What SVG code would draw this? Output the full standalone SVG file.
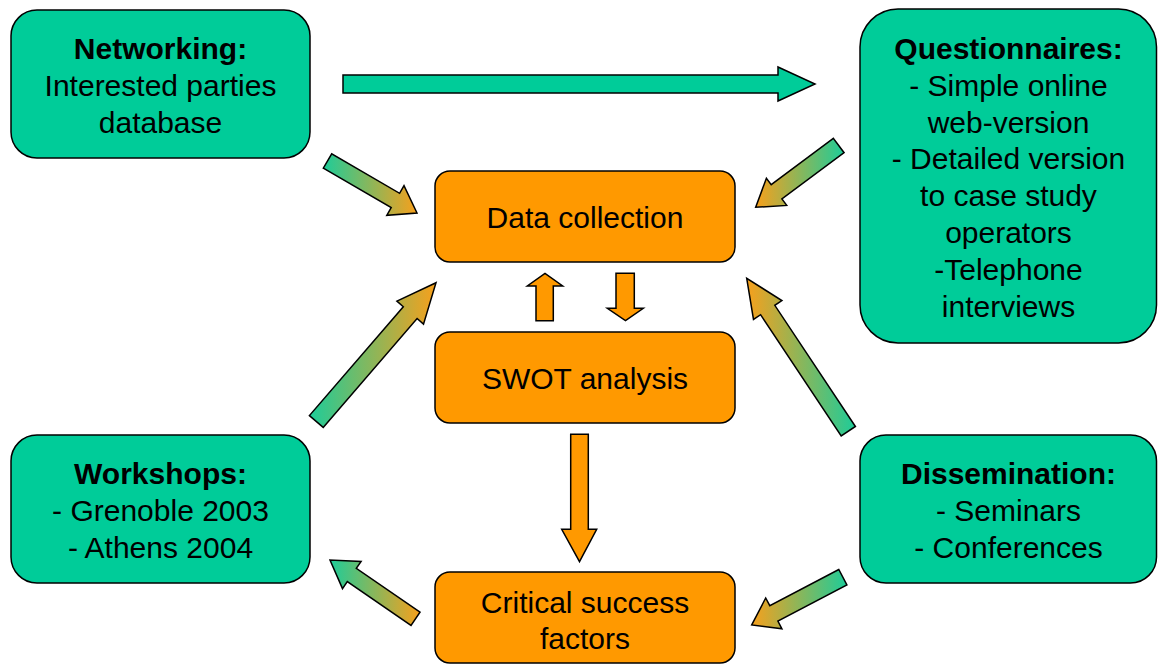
<svg xmlns="http://www.w3.org/2000/svg" width="1158" height="666" viewBox="0 0 1158 666">
<style>
.g{fill:#00CC99;stroke:#000;stroke-width:1.5}
.o{fill:#FF9900;stroke:#000;stroke-width:1.5}
.t{font-family:"Liberation Sans",Arial,sans-serif;font-size:30px;fill:#000;text-anchor:middle}
.b{font-weight:bold}
.a{stroke:#000;stroke-width:1.5;stroke-linejoin:miter}
</style>
<defs>
<linearGradient id="g2o" x1="0" y1="0" x2="1" y2="0">
<stop offset="0" stop-color="#1ECC99"/>
<stop offset="1" stop-color="#F7A01C"/>
</linearGradient>
<linearGradient id="o2g" x1="0" y1="0" x2="1" y2="0">
<stop offset="0" stop-color="#F7A01C"/>
<stop offset="1" stop-color="#1ECC99"/>
</linearGradient>
</defs>
<rect width="1158" height="666" fill="#fff"/>
<g id="connectors">
<polygon class="a" fill="#00CC99" points="343,75 778,75 778,67 815,84 778,101 778,93 343,93"/>
<polygon class="a" fill="url(#g2o)" points="323.3,168.2 391.2,207.6 386.8,215.3 417,213 404.0,185.6 399.6,193.3 331.7,153.8"/>
<polygon class="a" fill="url(#o2g)" points="833.3,138.3 771.2,184.6 766.4,178.2 755.7,207.3 786.7,205.4 781.9,199.0 844.1,152.7"/>
<polygon class="a" fill="url(#g2o)" points="323.2,427.4 417.1,318.5 423.5,324.1 436,282.7 396.9,301.1 403.3,306.7 309.4,415.6"/>
<polygon class="a" fill="url(#o2g)" points="855.4,426.5 774.8,305.3 781.9,300.6 746.7,278.3 753.5,319.4 760.6,314.7 841.2,435.9"/>
<polygon class="a" fill="url(#g2o)" points="420.0,612.2 356.3,568.4 361.1,561.4 330,560 342.5,588.6 347.3,581.6 411.0,625.4"/>
<polygon class="a" fill="url(#o2g)" points="838.8,569.5 769.8,605.7 765.7,598.0 751.7,625 781.9,628.8 777.9,621.1 846.9,584.9"/>
<polygon class="a" fill="#FF9900" points="536,320.7 536,286 527.3,286 545,273.3 562.7,286 553.3,286 553.3,320.7"/>
<polygon class="a" fill="#FF9900" points="616,273.3 634.3,273.3 634.3,308.3 643.3,308.3 625.5,320.7 607.3,308.3 616,308.3"/>
<polygon class="a" fill="#FF9900" points="570.7,434.3 588.3,434.3 588.3,529.3 596.7,529.3 579.5,561.7 561.7,529.3 570.7,529.3"/>
</g>
<g id="networking">
<rect class="g" x="11" y="10" width="299" height="148" rx="26"/>
<text class="t b" x="160.5" y="59">Networking:</text>
<text class="t" x="160.5" y="96">Interested parties</text>
<text class="t" x="160.5" y="133">database</text>
</g>
<g id="questionnaires">
<rect class="g" x="860" y="9" width="296.5" height="334" rx="38"/>
<text class="t b" x="1008.5" y="59">Questionnaires:</text>
<text class="t" x="1008.5" y="96">- Simple online</text>
<text class="t" x="1008.5" y="133">web-version</text>
<text class="t" x="1008.5" y="169">- Detailed version</text>
<text class="t" x="1008.5" y="206">to case study</text>
<text class="t" x="1008.5" y="243">operators</text>
<text class="t" x="1008.5" y="280">-Telephone</text>
<text class="t" x="1008.5" y="317">interviews</text>
</g>
<g id="data-collection">
<rect class="o" x="435" y="171" width="300" height="91" rx="15"/>
<text class="t" x="585" y="228">Data collection</text>
</g>
<g id="swot">
<rect class="o" x="435" y="332" width="300" height="91" rx="15"/>
<text class="t" x="585" y="389">SWOT analysis</text>
</g>
<g id="critical">
<rect class="o" x="435" y="572" width="300" height="91" rx="15"/>
<text class="t" x="585" y="613">Critical success</text>
<text class="t" x="585" y="649">factors</text>
</g>
<g id="workshops">
<rect class="g" x="11" y="435" width="299" height="148" rx="26"/>
<text class="t b" x="160.5" y="484">Workshops:</text>
<text class="t" x="160.5" y="521">- Grenoble 2003</text>
<text class="t" x="160.5" y="558">- Athens 2004</text>
</g>
<g id="dissemination">
<rect class="g" x="860" y="435" width="296.5" height="148" rx="26"/>
<text class="t b" x="1008.5" y="484">Dissemination:</text>
<text class="t" x="1008.5" y="521">- Seminars</text>
<text class="t" x="1008.5" y="558">- Conferences</text>
</g>
</svg>
